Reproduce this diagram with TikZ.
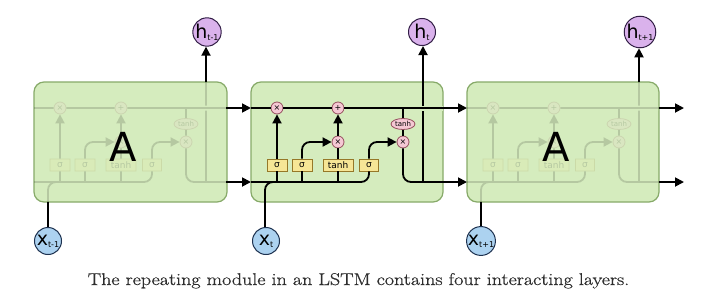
\documentclass[tikz,border=0pt]{standalone}
\usepackage{fontspec}
\newfontfamily\lab{DejaVu Sans}
\newfontfamily\capfont{Latin Modern Roman}[FakeBold=0.6]
\usetikzlibrary{arrows.meta,shapes.geometric,calc}
\definecolor{cellfill}{RGB}{213,236,190}
\definecolor{celldraw}{RGB}{135,170,105}
\definecolor{gatefill}{RGB}{246,230,150}
\definecolor{gatedraw}{RGB}{150,120,40}
\definecolor{pwfill}{RGB}{245,200,212}
\definecolor{pwdraw}{RGB}{150,80,95}
\definecolor{hfill}{RGB}{218,178,236}
\definecolor{hdraw}{RGB}{50,30,70}
\definecolor{xfill}{RGB}{172,210,240}
\definecolor{xdraw}{RGB}{30,50,80}
\definecolor{captext}{RGB}{45,45,45}
\tikzset{
 cellbox/.style={draw=celldraw, fill=cellfill, line width=1.2pt, rounded corners=10pt},
 gate/.style={draw=gatedraw, fill=gatefill, line width=0.8pt, minimum height=12pt, inner sep=0pt, font=\lab\fontsize{9}{9}\selectfont},
 pw/.style={circle, draw=pwdraw, fill=pwfill, line width=0.8pt, minimum size=12pt, inner sep=0pt, font=\lab\fontsize{8}{8}\selectfont},
 pwell/.style={ellipse, draw=pwdraw, fill=pwfill, line width=0.8pt, minimum width=24pt, minimum height=11pt, inner sep=0pt, font=\lab\fontsize{7}{7}\selectfont},
 wire/.style={line width=1.8pt, black},
 flow/.style={wire, -{Triangle[length=9pt,width=9pt]}},
 hcirc/.style={circle, draw=hdraw, fill=hfill, line width=1pt, minimum size=27pt, inner sep=0pt, font=\lab\fontsize{19}{19}\selectfont},
 xcirc/.style={circle, draw=xdraw, fill=xfill, line width=1pt, minimum size=27pt, inner sep=0pt, font=\lab\fontsize{19}{19}\selectfont},
 bigA/.style={font=\lab\fontsize{40}{40}\selectfont, inner sep=0pt},
 caption/.style={font=\capfont\fontsize{17}{19}\selectfont, text=captext, inner sep=0pt, anchor=base}
}
\newcommand\lstminner[2]{%
\begin{scope}[shift={(#2,0)}]
 \coordinate (#1L1) at (251,108);
 \coordinate (#1R1) at (443,108);
 \coordinate (#1L2) at (251,182);
 \coordinate (#1R2) at (443,182);
 \coordinate (#1tb) at (403,108);
 \coordinate (#1hb) at (423,182);
 \coordinate (#1ht) at (423,82);
 \coordinate (#1xb) at (265,202);
 \coordinate (#1xm) at (290,182);
 \coordinate (#1b1) at (277,182);
 \coordinate (#1b2) at (302,182);
 \coordinate (#1b3) at (338,182);
 \node[pw] (#1f) at (277,108) {×};
 \node[pw] (#1p) at (338,108) {+};
 \node[pw] (#1i) at (338,142) {×};
 \node[pw] (#1o) at (403,142) {×};
 \node[pwell] (#1th) at (403,124) {tanh};
 \node[gate, minimum width=20pt] (#1g1) at (277,165) {σ};
 \node[gate, minimum width=20pt] (#1g2) at (302,165) {σ};
 \node[gate, minimum width=30pt] (#1g3) at (338,165) {tanh};
 \node[gate, minimum width=19pt] (#1g4) at (369,165) {σ};
 \draw[wire] (#1hb) -- (#1ht);
 \draw[wire] (#1L1) -- (#1f);
 \draw[wire] (#1f) -- (#1p);
 \draw[wire, preaction={draw=cellfill, line width=5pt}] (#1p) -- (#1R1);
 \draw[wire] (#1tb) -- (#1th);
 \draw[wire] (#1th) -- (#1o);
 \draw[wire, rounded corners=8pt] (#1o) |- (#1R2);
 \draw[wire, rounded corners=8pt] (#1L2) -| (#1g4);
 \draw[wire, rounded corners=8pt] (#1xb) |- (#1xm);
 \draw[wire] (#1g1) -- (#1b1);
 \draw[wire] (#1g2) -- (#1b2);
 \draw[wire] (#1g3) -- (#1b3);
 \draw[flow] (#1g1) -- (#1f);
 \draw[flow, rounded corners=8pt] (#1g2) |- (#1i);
 \draw[wire] (#1g3) -- (#1i);
 \draw[flow] (#1i) -- (#1p);
 \draw[flow, rounded corners=8pt] (#1g4) |- (#1o);
\end{scope}}
\begin{document}
\begin{tikzpicture}[x=1pt,y=-1pt]
\useasboundingbox[fill=white] (0,0) rectangle (720,297);
% boxes
\draw[cellbox] (34,82) rectangle (227,202);
\draw[cellbox] (251,82) rectangle (443,202);
\draw[cellbox] (467,82) rectangle (659,202);
% faded side cells
\begin{scope}[opacity=0.15, transparency group]
 \lstminner{a}{-217}
\end{scope}
\begin{scope}[opacity=0.15, transparency group]
 \lstminner{c}{216}
\end{scope}
\lstminner{b}{0}
\node[bigA] (Aa) at (123,147) {A};
\node[bigA] (Ac) at (556,147) {A};
% outputs / inputs
\node[hcirc] (h1) at (207,32) {h\raisebox{-2pt}{\fontsize{8}{8}\selectfont t-1}};
\node[hcirc] (h2) at (422,32) {h\raisebox{-2pt}{\fontsize{8}{8}\selectfont t}};
\node[hcirc] (h3) at (640,32) {h\raisebox{-2pt}{\fontsize{8}{8}\selectfont t+1}};
\node[xcirc] (x1) at (48,241) {x\raisebox{-2pt}{\fontsize{8}{8}\selectfont t-1}};
\node[xcirc] (x2) at (266,241) {x\raisebox{-2pt}{\fontsize{8}{8}\selectfont t}};
\node[xcirc] (x3) at (481,241) {x\raisebox{-2pt}{\fontsize{8}{8}\selectfont t+1}};
\draw[flow] (aht) -- (aht |- h1.south);
\draw[flow] (bht) -- (bht |- h2.south);
\draw[flow] (cht) -- (cht |- h3.south);
\draw[wire] (axb |- x1.north) -- (axb);
\draw[wire] (bxb |- x2.north) -- (bxb);
\draw[wire] (cxb |- x3.north) -- (cxb);
\coordinate (e1) at (684,108);
\coordinate (e2) at (684,182);
\draw[flow] (aR1) -- (bL1);
\draw[flow] (aR2) -- (bL2);
\draw[flow] (bR1) -- (cL1);
\draw[flow] (bR2) -- (cL2);
\draw[flow] (cR1) -- (e1);
\draw[flow] (cR2) -- (e2);
\node[caption] (cap) at (358.5,285) {\scalebox{1.18}[1]{The repeating module in an LSTM contains four interacting layers.}};
\end{tikzpicture}
\end{document}
